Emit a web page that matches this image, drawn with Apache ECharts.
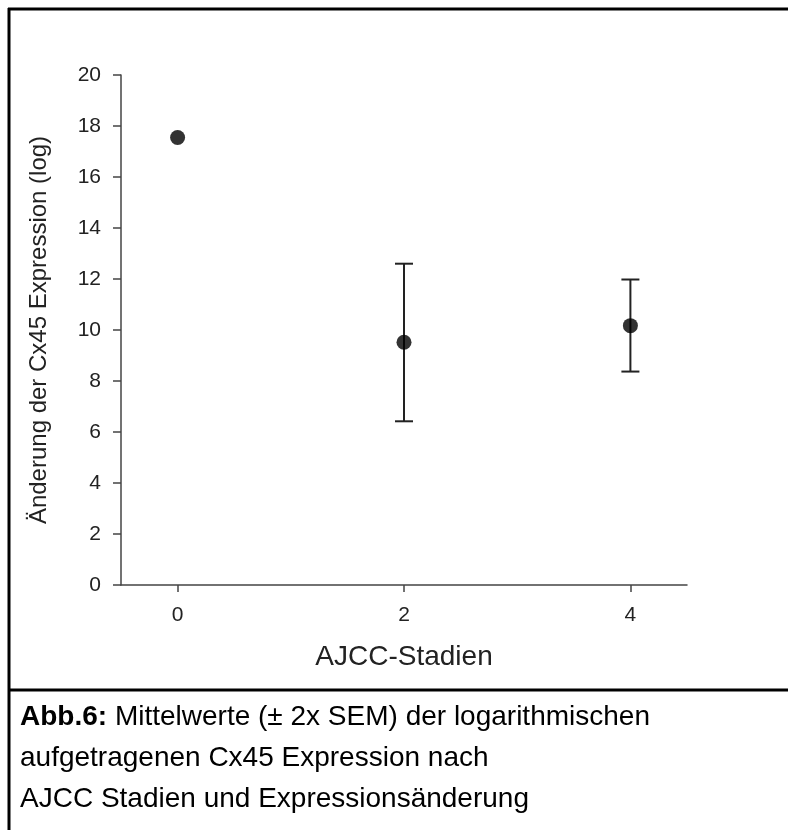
<!DOCTYPE html>
<html>
<head>
<meta charset="utf-8">
<script src="https://cdn.jsdelivr.net/npm/echarts@6/dist/echarts.min.js"></script>
<style>
  html, body { margin: 0; padding: 0; background: #fff; }
  #chart { width: 788px; height: 830px; }
</style>
</head>
<body>
<div id="chart"></div>
<script>
// AJCC stages and Cx45 means with +/- 2x SEM limits (stage 0 has no bar)
const stages = [0, 2, 4]
const stageTicks = [0, 2, 4]
const means = [17.55, 9.52, 10.17]
const errLow = [null, 6.42, 8.37]
const errHigh = [null, 12.6, 11.98]
const xTitle = 'AJCC-Stadien'
const yTitle = 'Änderung der Cx45 Expression (log)'
const captionLines = [
  ['Abb.6:', ' Mittelwerte (± 2x SEM) der logarithmischen'],
  ['', 'aufgetragenen Cx45 Expression nach'],
  ['', 'AJCC Stadien und Expressionsänderung']
]

const FONT = '"Liberation Sans", Arial, sans-serif'
const chart = echarts.init(document.getElementById('chart'), null, { renderer: 'canvas' })

const meanData = stages.map((s, i) => [s, means[i]])
const errData = stages.map((s, i) => [s, errLow[i] ?? NaN, errHigh[i] ?? NaN])

const captionGraphics = captionLines.map((ln, i) => ({
  type: 'text',
  x: 20,
  y: 717 + i * 41,
  style: {
    text: (ln[0] ? '{b|' + ln[0] + '}' : '') + '{n|' + ln[1] + '}',
    verticalAlign: 'middle',
    rich: {
      b: { fontFamily: FONT, fontSize: 28, fontWeight: 'bold', fill: '#000' },
      n: { fontFamily: FONT, fontSize: 28, fill: '#000' }
    }
  }
}))

chart.setOption({
  animation: false,
  backgroundColor: '#fff',
  grid: { left: 121, right: 101, top: 75, bottom: 245 },
  xAxis: {
    type: 'value',
    min: -0.5,
    max: 4.5,
    name: xTitle,
    nameLocation: 'middle',
    nameGap: 58,
    nameTextStyle: { fontFamily: FONT, fontSize: 28, color: '#222' },
    axisLine: { lineStyle: { color: '#444', width: 1.5 } },
    axisTick: { customValues: stageTicks, length: 7, lineStyle: { color: '#444', width: 1.5 } },
    axisLabel: { customValues: stageTicks, margin: 20, fontFamily: FONT, fontSize: 21, color: '#222' },
    splitLine: { show: false }
  },
  yAxis: {
    type: 'value',
    min: 0,
    max: 20,
    interval: 2,
    name: yTitle,
    nameLocation: 'middle',
    nameGap: 70,
    nameRotate: 90,
    nameTextStyle: { fontFamily: FONT, fontSize: 24, color: '#222' },
    axisLine: { show: true, onZero: false, lineStyle: { color: '#444', width: 1.5 } },
    axisTick: { show: true, length: 8, lineStyle: { color: '#444', width: 1.5 } },
    axisLabel: { margin: 20, fontFamily: FONT, fontSize: 21, color: '#222' },
    splitLine: { show: false }
  },
  series: [
    {
      type: 'custom',
      data: errData,
      z: 2,
      renderItem: (params, api) => {
        const x = api.value(0)
        if (isNaN(api.value(1)) || isNaN(api.value(2))) return null
        const lo = api.coord([x, api.value(1)])
        const hi = api.coord([x, api.value(2)])
        const half = 9
        const style = { stroke: '#222', lineWidth: 2 }
        return {
          type: 'group',
          children: [
            { type: 'line', shape: { x1: lo[0], y1: lo[1], x2: hi[0], y2: hi[1] }, style },
            { type: 'line', shape: { x1: hi[0] - half, y1: hi[1], x2: hi[0] + half, y2: hi[1] }, style },
            { type: 'line', shape: { x1: lo[0] - half, y1: lo[1], x2: lo[0] + half, y2: lo[1] }, style }
          ]
        }
      }
    },
    {
      type: 'scatter',
      data: meanData,
      z: 3,
      symbol: 'circle',
      symbolSize: 15,
      itemStyle: { color: '#000' }
    }
  ],
  graphic: [
    { type: 'line', shape: { x1: 8, y1: 9, x2: 788, y2: 9 }, style: { stroke: '#000', lineWidth: 3 } },
    { type: 'line', shape: { x1: 9, y1: 8, x2: 9, y2: 830 }, style: { stroke: '#000', lineWidth: 3 } },
    { type: 'line', shape: { x1: 8, y1: 690, x2: 788, y2: 690 }, style: { stroke: '#000', lineWidth: 3 } },
    ...captionGraphics
  ]
})
</script>
</body>
</html>
